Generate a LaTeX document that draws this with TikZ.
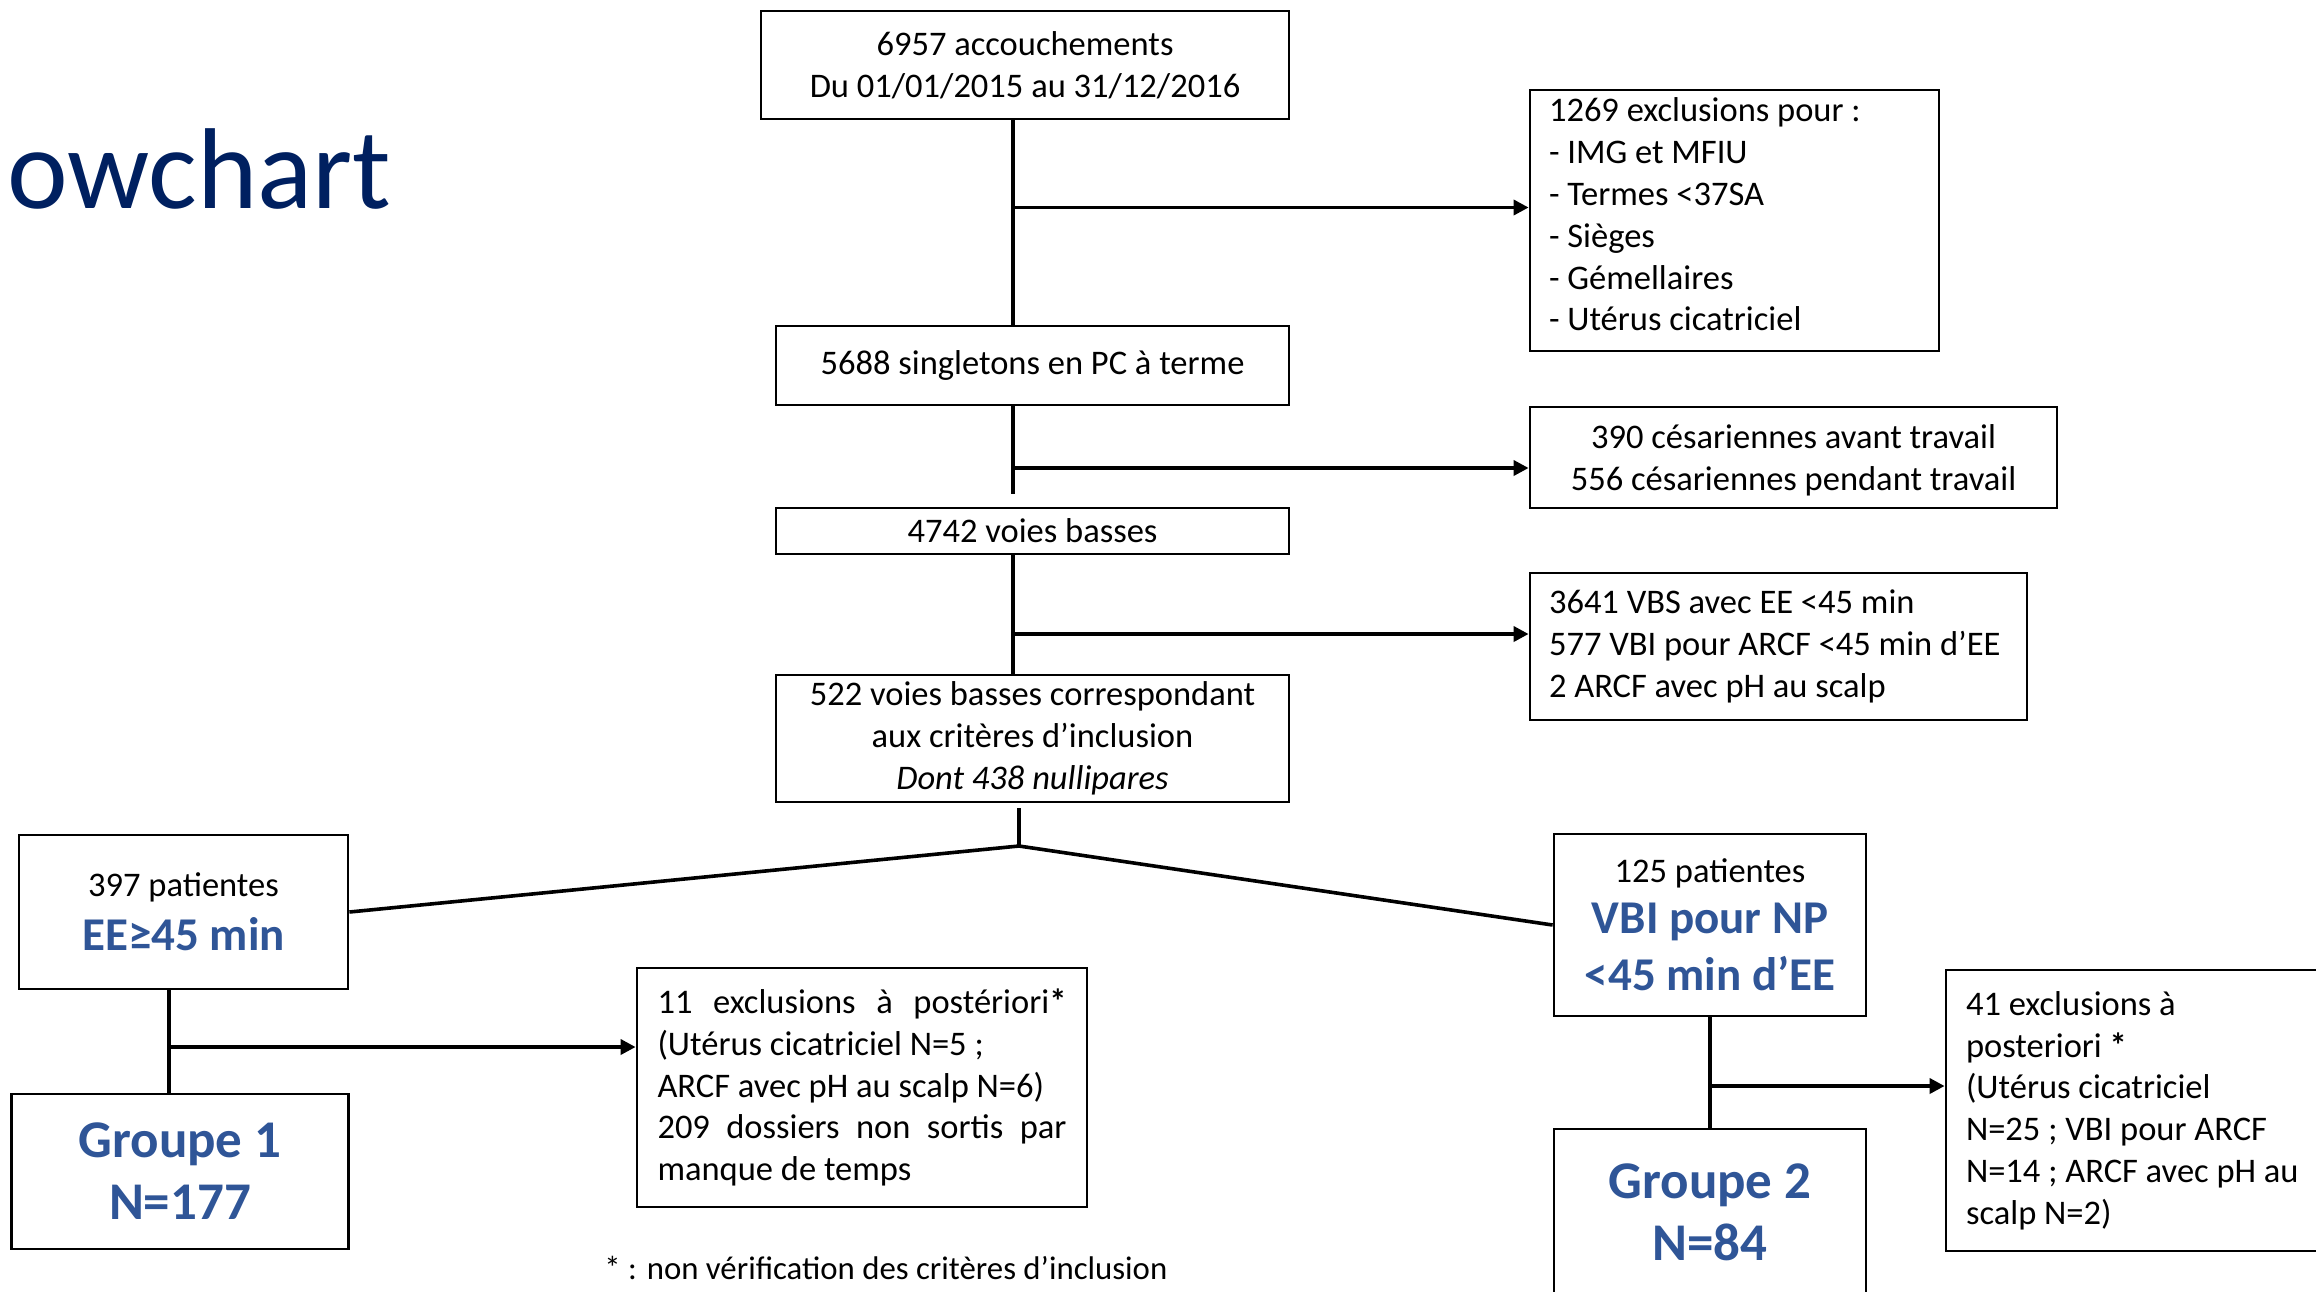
\documentclass[tikz,border=0pt]{standalone}
\usepackage{fontspec}
\setmainfont{Carlito}
\usetikzlibrary{arrows.meta}
\definecolor{navy}{RGB}{0,32,96}
\definecolor{pblue}{RGB}{47,85,151}
\newcommand\nrm{\fontsize{17.25pt}{20.9pt}\selectfont}
\newcommand\bigb{\fontsize{23.5pt}{28.5pt}\selectfont\bfseries\color{pblue}}
\newcommand\grpf{\fontsize{26.5pt}{31pt}\selectfont\bfseries\color{pblue}}
\begin{document}
\begin{tikzpicture}[x=0.5pt,y=-0.5pt,
  box/.style={draw, line width=1.4pt, inner sep=0pt, align=center, font=\nrm},
  ln/.style={line width=1.8pt},
  arr/.style={line width=1.8pt, -{Triangle[length=7.5pt,width=7.5pt]}}]
\useasboundingbox (0,0) rectangle (2316,1291);
\clip (0,0) rectangle (2316,1291);
% title
\node[anchor=base west, inner sep=0pt, text=navy, font=\fontsize{57.5pt}{60pt}\selectfont] (title) at (7,208) {owchart};
% boxes
\node[box, minimum width=264pt, minimum height=54pt] (A) at (1025,65) {6957 accouchements\\Du 01/01/2015 au 31/12/2016};
\node[box, minimum width=204.5pt, minimum height=130.5pt, text width=185.5pt, align=flush left] (B) at (1734.5,220.5)
  {1269 exclusions pour :\\- IMG et MFIU\\- Termes <37SA\\- Sièges\\- Gémellaires\\- Utérus cicatriciel\rule[-6pt]{0pt}{1pt}};
\node[box, minimum width=256.5pt, minimum height=39.5pt] (C) at (1032.5,365.5) {5688 singletons en PC à terme};
\node[box, minimum width=263.5pt, minimum height=50.5pt] (D) at (1793.5,457.5) {\rule{0pt}{15pt}390 césariennes avant travail\\556 césariennes pendant travail};
\node[box, minimum width=256.5pt, minimum height=23pt] (E) at (1032.5,531) {4742 voies basses};
\node[box, minimum width=248.5pt, minimum height=73.5pt, text width=229.5pt, align=flush left] (F) at (1778.5,646.5)
  {\mbox{3641 VBS avec EE <45 min}\\\mbox{577 VBI pour ARCF <45 min d’EE}\\\mbox{2 ARCF avec pH au scalp}};
\node[box, minimum width=256.5pt, minimum height=63.5pt] (G) at (1032.5,738.5) {522 voies basses correspondant\\aux critères d’inclusion\\\textit{Dont 438 nullipares}};
\node[box, minimum width=164.5pt, minimum height=77pt, font=\fontsize{23.5pt}{25pt}\selectfont] (H) at (183.5,912) {{\nrm 397 patientes}\\[2pt]{\bigb EE≥45 min}};
\node[box, minimum width=156pt, minimum height=91pt, font=\fontsize{23.5pt}{25.5pt}\selectfont] (I) at (1710,925) {{\nrm 125 patientes}\\{\bigb VBI pour NP}\\[3pt]{\bigb <45 min d’EE}};
\node[box, minimum width=168.25pt, minimum height=77.5pt, font=\grpf] (J) at (180,1171.5) {Groupe 1\\N=177};
\node[box, minimum width=225pt, minimum height=119.5pt, text width=204.5pt, align=justify] (K) at (862,1087.5)
  {11 exclusions à postériori\textbf{*}\linebreak (Utérus cicatriciel N=5 ;\\ARCF avec pH au scalp N=6)\\209 dossiers non sortis par\linebreak manque de temps};
\node[box, minimum width=197pt, minimum height=140.5pt, text width=177pt, align=flush left] (L) at (2143,1110.5)
  {41 exclusions à\\posteriori \textbf{*}\\(Utérus cicatriciel\\N=25 ; VBI pour ARCF\\\mbox{N=14 ; ARCF avec pH au}\\scalp N=2)};
\node[box, minimum width=156pt, minimum height=83.5pt, font=\grpf] (M) at (1710,1212.5) {Groupe 2\\N=84};
\node[anchor=west, inner sep=0pt, font=\fontsize{16.4pt}{19pt}\selectfont] (note) at (604,1268) {* : non vérification des critères d’inclusion};
% connectors
\coordinate (sp) at (1013,0);
\coordinate (j1) at (1013,207.5);
\coordinate (j2) at (1013,468);
\coordinate (j3) at (1013,634);
\coordinate (split) at (1019,846);
\coordinate (lv) at (169,0);
\coordinate (j4) at (169,1047);
\coordinate (j5) at (1710,1086);
\draw[ln] (A.south -| sp) -- (C.north -| sp);
\draw[arr] (j1) -- (j1 -| B.west);
\draw[ln, shorten >=6.5pt] (C.south -| sp) -- (E.north -| sp);
\draw[arr] (j2) -- (j2 -| D.west);
\draw[ln] (E.south -| sp) -- (G.north -| sp);
\draw[arr] (j3) -- (j3 -| F.west);
\draw[ln, shorten <=2.5pt] (G.south -| split) -- (split);
\draw[ln] (split) -- (H.east);
\draw[ln] (split) -- (I.west);
\draw[ln] (H.south -| lv) -- (J.north -| lv);
\draw[arr] (j4) -- (j4 -| K.west);
\draw[ln] (I.south) -- (M.north);
\draw[arr] (j5) -- (j5 -| L.west);
\end{tikzpicture}
\end{document}
